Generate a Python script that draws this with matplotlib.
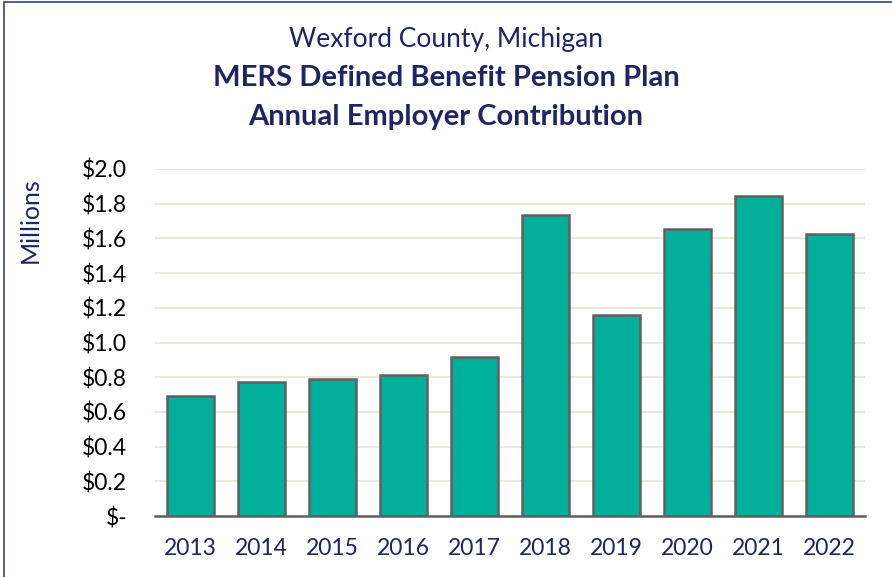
import matplotlib.pyplot as plt
from matplotlib.patches import Rectangle
from matplotlib.ticker import FuncFormatter

years = ['2013', '2014', '2015', '2016', '2017', '2018', '2019', '2020', '2021', '2022']
contrib = [0.692, 0.772, 0.790, 0.813, 0.916, 1.735, 1.158, 1.654, 1.844, 1.625]
yticks = [0.0, 0.2, 0.4, 0.6, 0.8, 1.0, 1.2, 1.4, 1.6, 1.8, 2.0]

navy = '#1f2464'
teal = '#00b09b'

plt.rcParams['font.family'] = ['Lato', 'DejaVu Sans']

fig = plt.figure(figsize=(8.92, 5.77), dpi=100)
ax = fig.add_axes([155 / 892, 1 - 516 / 577, 710 / 892, 347 / 577])

# frame around the whole chart
fig.patches.append(Rectangle((4 / 892, -0.01), 1.0, 1 - 2 / 577 + 0.01,
                             transform=fig.transFigure, fill=False,
                             edgecolor='#3a3f8f', linewidth=1.2))

x = range(len(years))
ax.bar(x, contrib, width=0.66, color=teal, edgecolor='#606060', linewidth=1.8, zorder=3)

ax.set_xlim(-0.5, len(years) - 0.5)
ax.set_ylim(0, 2.0)
ax.set_yticks(yticks)
ax.yaxis.set_major_formatter(FuncFormatter(lambda v, p: '$-' if v == 0 else f'${v:.1f}'))
ax.set_xticks(list(x))
ax.set_xticklabels(years, color=navy)
ax.tick_params(axis='both', length=0, labelsize=16.5)
ax.tick_params(axis='x', pad=16)
ax.tick_params(axis='y', pad=20)
ax.grid(axis='y', color='#e8e8dc', linewidth=1.5, zorder=0)

for s in ['top', 'right', 'left']:
    ax.spines[s].set_visible(False)
ax.spines['bottom'].set_color('#606060')
ax.spines['bottom'].set_linewidth(1.8)
ax.spines['bottom'].set_zorder(4)

ax.set_ylabel('Millions', color=navy, fontsize=18)
ax.yaxis.set_label_coords(-0.16, 0.854)

fig.text(0.5, 1 - 40 / 577, 'Wexford County, Michigan', ha='center', va='center',
         fontsize=19, color=navy)
fig.text(0.5, 1 - 78 / 577, 'MERS Defined Benefit Pension Plan', ha='center', va='center',
         fontsize=21, color=navy, fontweight='bold')
fig.text(0.5, 1 - 117 / 577, 'Annual Employer Contribution', ha='center', va='center',
         fontsize=21, color=navy, fontweight='bold')

plt.savefig('out.png', dpi=100)
